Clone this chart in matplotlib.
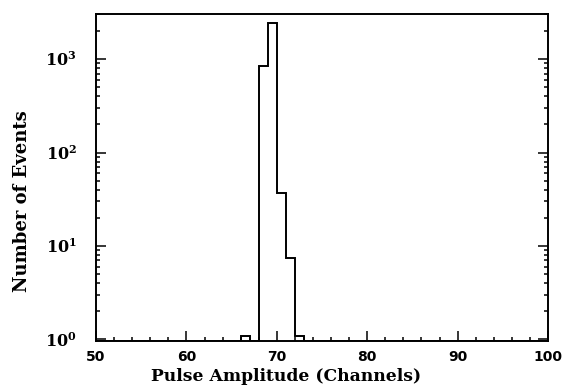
import numpy as np
from matplotlib import pyplot as plt
from matplotlib.ticker import FixedLocator, MultipleLocator, LogLocator, NullFormatter

# pulse height spectrum, one bin per channel
edges = [50, 66, 67, 68, 69, 70, 71, 72, 73, 100]
counts = [0.95, 1.1, 0.95, 850, 2430, 37, 7.5, 1.1, 0.95]

x_ticks = [50, 60, 70, 80, 90, 100]
y_ticks = [1, 10, 100, 1000]
y_labels = [r"$\mathbf{10^{0}}$", r"$\mathbf{10^{1}}$", r"$\mathbf{10^{2}}$", r"$\mathbf{10^{3}}$"]

plt.rcParams['font.family'] = ['DejaVu Serif']
plt.rcParams['mathtext.fontset'] = 'dejavuserif'

fig = plt.figure(figsize=(5.65, 3.87), dpi=100)
ax = fig.add_axes([0.170, 0.1176, 0.800, 0.845])

ax.stairs(counts, edges, color="black", linewidth=1.4, baseline=None)

ax.set_yscale("log")
ax.set_xlim(50, 100)
ax.set_ylim(0.95, 3000)

ax.xaxis.set_major_locator(FixedLocator(x_ticks))
ax.xaxis.set_minor_locator(MultipleLocator(2))
ax.set_xticklabels([str(t) for t in x_ticks], fontsize=10, fontweight="bold", family="DejaVu Sans")

ax.yaxis.set_major_locator(FixedLocator(y_ticks))
ax.yaxis.set_minor_locator(LogLocator(base=10, subs=np.arange(2, 10)))
ax.yaxis.set_minor_formatter(NullFormatter())
ax.set_yticklabels(y_labels, fontsize=11.5)

ax.tick_params(which="both", direction="in", top=False, right=True, width=1.1)
ax.tick_params(which="major", length=7, pad=6)
ax.tick_params(axis="y", which="major", pad=14)
ax.tick_params(which="minor", length=3)

for s in ax.spines.values():
    s.set_linewidth(1.4)

ax.set_xlabel("Pulse Amplitude (Channels)", fontsize=12.3, fontweight="bold", labelpad=3)
ax.xaxis.set_label_coords(0.42, -0.08)
ax.set_ylabel("Number of Events", fontsize=13, fontweight="bold")
ax.yaxis.set_label_coords(-0.145, 0.43)

fig.savefig("out.png", dpi=100)
